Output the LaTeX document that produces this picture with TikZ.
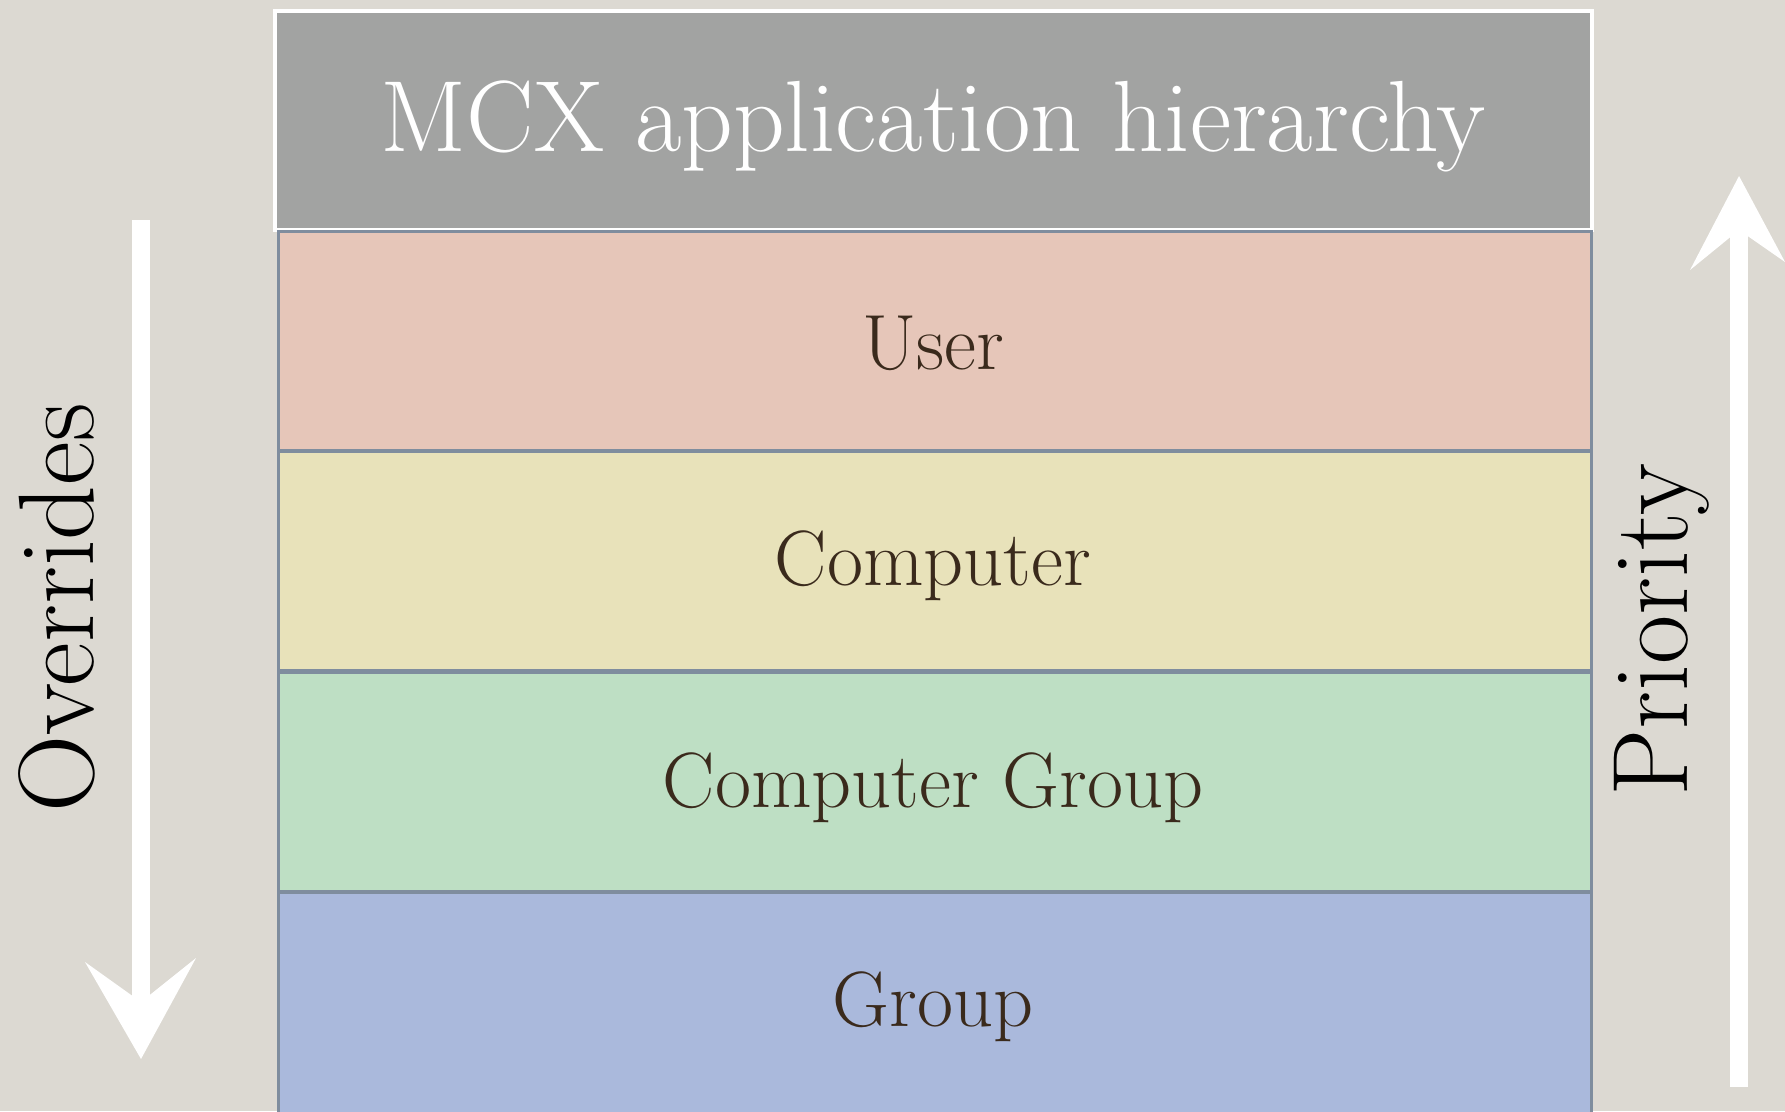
\documentclass[tikz,border=0pt]{standalone}
\usepackage{xcolor}
\definecolor{paper}{HTML}{DCD9D2}
\definecolor{titlegray}{HTML}{A2A3A2}
\definecolor{slate}{HTML}{7F8D9E}
\definecolor{userred}{HTML}{E6C6B9}
\definecolor{compyellow}{HTML}{E8E2BA}
\definecolor{cgroupgreen}{HTML}{BEDFC4}
\definecolor{groupblue}{HTML}{AAB9DC}
\definecolor{ink}{HTML}{3A2A1C}
\tikzset{
  band/.style={draw=slate, line width=0.9pt, minimum width=13.13cm, minimum height=2.19cm, anchor=north west, inner sep=0pt},
  bandtext/.style={text=ink, font=\fontsize{22.3}{26}\selectfont},
  sidetext/.style={rotate=90, font=\fontsize{30.5}{36}\selectfont},
  chalk/.style={white, line width=0.18cm},
}
\begin{document}
\begin{tikzpicture}
\useasboundingbox (0,0) rectangle (17.85,-11.11);
\fill [paper] (0,0) rectangle (17.85,-11.11);

% title
\node [fill=titlegray, draw=white, line width=1pt, minimum width=13.17cm, minimum height=2.19cm, anchor=north west, inner sep=0pt,
  text height=21pt, text depth=3pt, text=white, font=\fontsize{28.8}{32}\selectfont] (title) at (2.73,-0.09) {MCX application hierarchy};

% levels
\node [band, fill=userred] (user) at (2.77,-2.30) {};
\node [band, fill=compyellow] (computer) at (2.77,-4.50) {};
\node [band, fill=cgroupgreen] (compgroup) at (2.77,-6.71) {};
\node [band, fill=groupblue, minimum height=2.4cm] (group) at (2.77,-8.91) {};

\node [bandtext] at (9.33,-3.43) {User};
\node [bandtext] at (9.33,-5.66) {Computer};
\node [bandtext] at (9.33,-7.88) {Computer Group};
\node [bandtext] at (9.33,-10.07) {Group};

% arrows
\coordinate (ovtop) at (1.41,-2.20);
\coordinate (ovend) at (1.41,-10.05);
\coordinate (prbot) at (17.39,-10.87);
\coordinate (prend) at (17.39,-2.25);
\draw [chalk] (ovtop) -- (ovend);
\fill [white] (1.41,-10.59) -- (0.85,-9.62) -- (1.41,-10.02) -- (1.96,-9.58) -- cycle;
\draw [chalk] (prbot) -- (prend);
\fill [white] (17.39,-1.76) -- (16.90,-2.70) -- (17.39,-2.30) -- (17.85,-2.62) -- cycle;

% labels
\node [sidetext] (overrides) at (0.57,-6.08) {Overrides};
\node [sidetext] (priority) at (16.62,-6.30) {Priority};

\end{tikzpicture}
\end{document}
